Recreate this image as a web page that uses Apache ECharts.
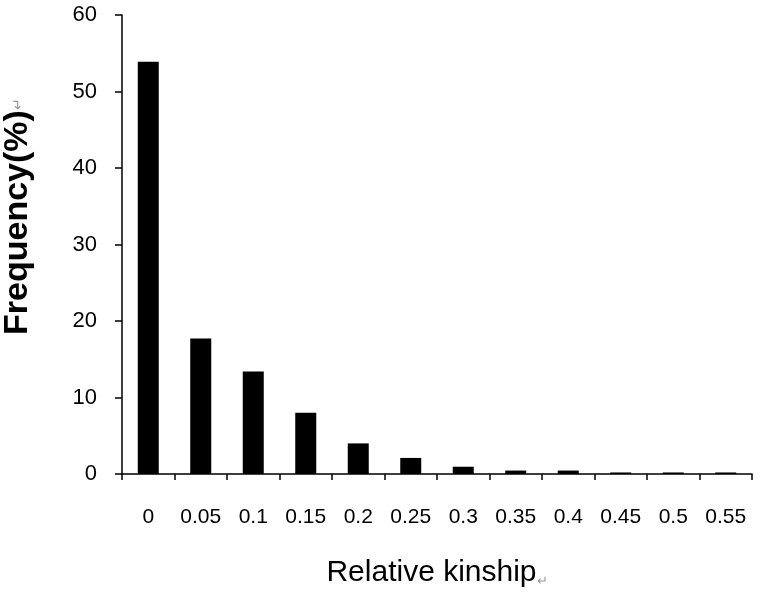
<!DOCTYPE html>
<html><head><meta charset="utf-8">
<script src="https://cdn.jsdelivr.net/npm/echarts@6/dist/echarts.min.js"></script>
<style>html,body{margin:0;padding:0;background:#fff}#c{width:762px;height:601px}</style>
</head><body><div id="c"></div>
<script>
const categories = ['0','0.05','0.1','0.15','0.2','0.25','0.3','0.35','0.4','0.45','0.5','0.55'];
const frequency = [53.9, 17.7, 13.4, 8.0, 4.0, 2.1, 0.95, 0.45, 0.45, 0.2, 0.2, 0.2];
const yTicks = {min: 0, max: 60, interval: 10};

const chart = echarts.init(document.getElementById('c'), null, {renderer: 'canvas'});
chart.setOption({
  animation: false,
  backgroundColor: '#fff',
  grid: {left: 122, right: 10, top: 15, bottom: 127, containLabel: false, outerBoundsMode: 'none'},
  xAxis: {
    type: 'category',
    data: categories,
    name: 'Relative kinship{r|↵}',
    nameLocation: 'middle',
    nameGap: 84,
    nameTextStyle: {fontFamily: 'Liberation Sans, Arial', fontSize: 30, color: '#000',
      rich: {r: {fontSize: 13, color: '#999', verticalAlign: 'bottom'}}},
    axisLine: {lineStyle: {color: '#000', width: 1.5}},
    axisTick: {show: true, interval: 0, length: 6, lineStyle: {color: '#000', width: 1.5}},
    axisLabel: {interval: 0, hideOverlap: false, fontFamily: 'Liberation Sans, Arial', fontSize: 21, color: '#000', margin: 33}
  },
  yAxis: {
    type: 'value',
    min: yTicks.min, max: yTicks.max, interval: yTicks.interval,
    name: 'Frequency(%){r|↵}',
    nameLocation: 'middle',
    nameGap: 87,
    nameRotate: 90,
    nameTextStyle: {fontFamily: 'Liberation Sans, Arial', fontWeight: 'bold', fontSize: 34, color: '#000',
      padding: [0, 0, 0, 56],
      rich: {r: {fontSize: 14, color: '#999', fontWeight: 'normal'}}},
    splitLine: {show: false},
    axisLine: {show: true, lineStyle: {color: '#000', width: 1.5}},
    axisTick: {show: true, length: 7, lineStyle: {color: '#000', width: 1.5}},
    axisLabel: {fontFamily: 'Liberation Sans, Arial', fontSize: 22, color: '#000', margin: 25}
  },
  series: [{
    type: 'bar',
    data: frequency,
    barWidth: 21,
    itemStyle: {color: '#000'}
  }]
});
</script></body></html>
